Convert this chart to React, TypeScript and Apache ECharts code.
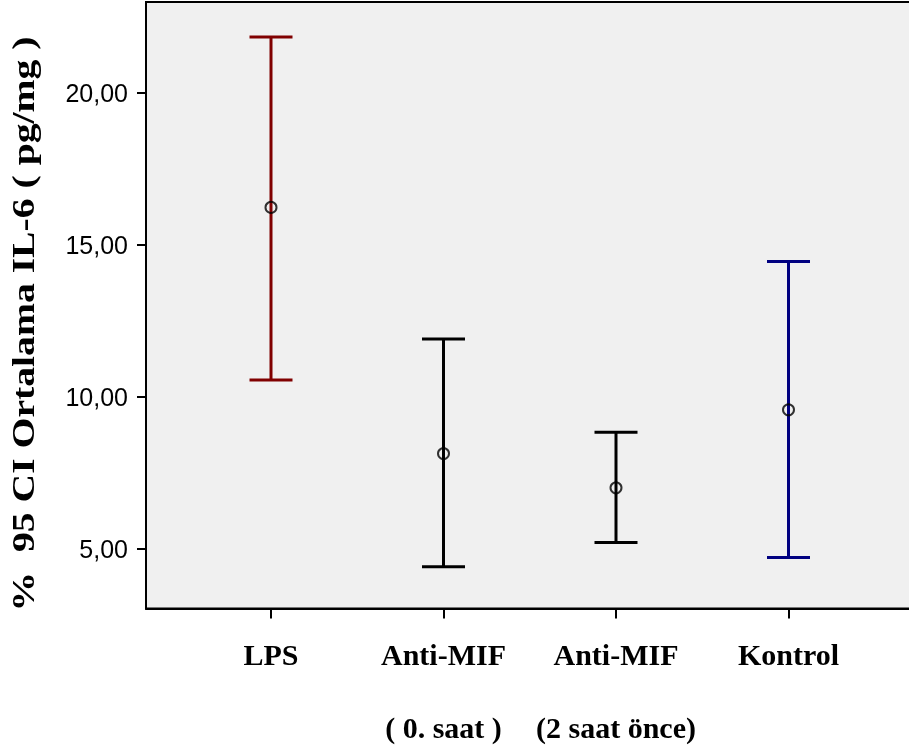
import React, { useEffect, useRef } from "react";
import * as echarts from "echarts";

const categories = ["LPS", "Anti-MIF\n( 0. saat )", "Anti-MIF\n(2 saat önce)", "Kontrol"];
const lowerCI = [10.56, 4.41, 5.21, 4.72];
const upperCI = [21.85, 11.91, 8.84, 14.46];
const means = [16.24, 8.14, 7.01, 9.58];
const barColors = ["#800000", "#000000", "#000000", "#000080"];
const yTicks = [5, 10, 15, 20];
const yTitle = "%  95 CI Ortalama IL-6 ( pg/mg )";

const Y_MIN = 3.04;
const Y_MAX = 23.0;

export default function App() {
  const ref = useRef<HTMLDivElement>(null);
  useEffect(() => {
    if (!ref.current) return;
    const chart = echarts.init(ref.current, null, { renderer: "svg" });
    const errData = categories.map((_, i) => [i, lowerCI[i], upperCI[i]]);
    const meanData = categories.map((_, i) => [i, means[i]]);
    chart.setOption({
      animation: false,
      grid: [
        {
          left: 146,
          right: -4,
          top: 2,
          bottom: 140.5,
          show: true,
          backgroundColor: "#f0f0f0",
          borderColor: "#000",
          borderWidth: 2,
          containLabel: false,
          outerBoundsMode: "none",
        },
        {
          left: 184.75,
          width: 690,
          top: 2,
          bottom: 140.5,
          containLabel: false,
          outerBoundsMode: "none",
        },
      ],
      xAxis: [
        {
          gridIndex: 0,
          type: "value",
          min: 0,
          max: 1,
          axisLine: { show: true, lineStyle: { color: "#000", width: 2 } },
          axisTick: { show: false },
          axisLabel: { show: false },
          splitLine: { show: false },
        },
        {
          gridIndex: 1,
          type: "category",
          data: categories,
          boundaryGap: true,
          axisLine: { show: false },
          axisTick: {
            show: true,
            alignWithLabel: true,
            length: 10,
            lineStyle: { color: "#000", width: 2 },
          },
          axisLabel: {
            interval: 0,
            margin: 9,
            color: "#000",
            fontFamily: "Liberation Serif",
            fontWeight: "bold",
            fontSize: 30,
            lineHeight: 73,
          },
          splitLine: { show: false },
        },
      ],
      yAxis: [
        {
          gridIndex: 0,
          type: "value",
          min: Y_MIN,
          max: Y_MAX,
          axisLine: { show: true, lineStyle: { color: "#000", width: 2 } },
          axisTick: {
            show: true,
            length: 9,
            customValues: yTicks,
            lineStyle: { color: "#000", width: 2 },
          },
          axisLabel: {
            customValues: yTicks,
            margin: 18,
            color: "#000",
            fontFamily: "Liberation Sans",
            fontSize: 25,
            formatter: (v: number) => v.toFixed(2).replace(".", ","),
          },
          splitLine: { show: false },
        },
        {
          gridIndex: 1,
          type: "value",
          min: Y_MIN,
          max: Y_MAX,
          show: false,
          splitLine: { show: false },
        },
      ],
      graphic: [
        {
          type: "text",
          x: 24,
          y: 324,
          rotation: Math.PI / 2,
          scaleX: 1.28,
          style: {
            text: yTitle,
            fontFamily: "Liberation Serif",
            fontWeight: "bold",
            fontSize: 31,
            fill: "#000",
            align: "center",
            verticalAlign: "middle",
          },
        },
      ],
      series: [
        {
          type: "custom",
          xAxisIndex: 1,
          yAxisIndex: 1,
          data: errData,
          encode: { x: 0, y: [1, 2] },
          z: 2,
          renderItem: (params: any, api: any) => {
            const i = api.value(0);
            const lo = api.coord([i, api.value(1)]);
            const hi = api.coord([i, api.value(2)]);
            const hw = 21.5;
            const color = barColors[params.dataIndex];
            const style = { stroke: color, lineWidth: 3 };
            return {
              type: "group",
              children: [
                { type: "line", shape: { x1: lo[0], y1: lo[1], x2: hi[0], y2: hi[1] }, style },
                { type: "line", shape: { x1: hi[0] - hw, y1: hi[1], x2: hi[0] + hw, y2: hi[1] }, style },
                { type: "line", shape: { x1: lo[0] - hw, y1: lo[1], x2: lo[0] + hw, y2: lo[1] }, style },
              ],
            };
          },
        },
        {
          type: "scatter",
          xAxisIndex: 1,
          yAxisIndex: 1,
          data: meanData,
          symbol: "circle",
          symbolSize: 11,
          z: 3,
          itemStyle: { color: "rgba(0,0,0,0)", borderColor: "#000", borderWidth: 2 },
        },
      ],
    });
    return () => chart.dispose();
  }, []);
  return (
    <div
      ref={ref}
      style={{ position: "fixed", left: 0, top: 0, width: 909, height: 749 }}
    />
  );
}
